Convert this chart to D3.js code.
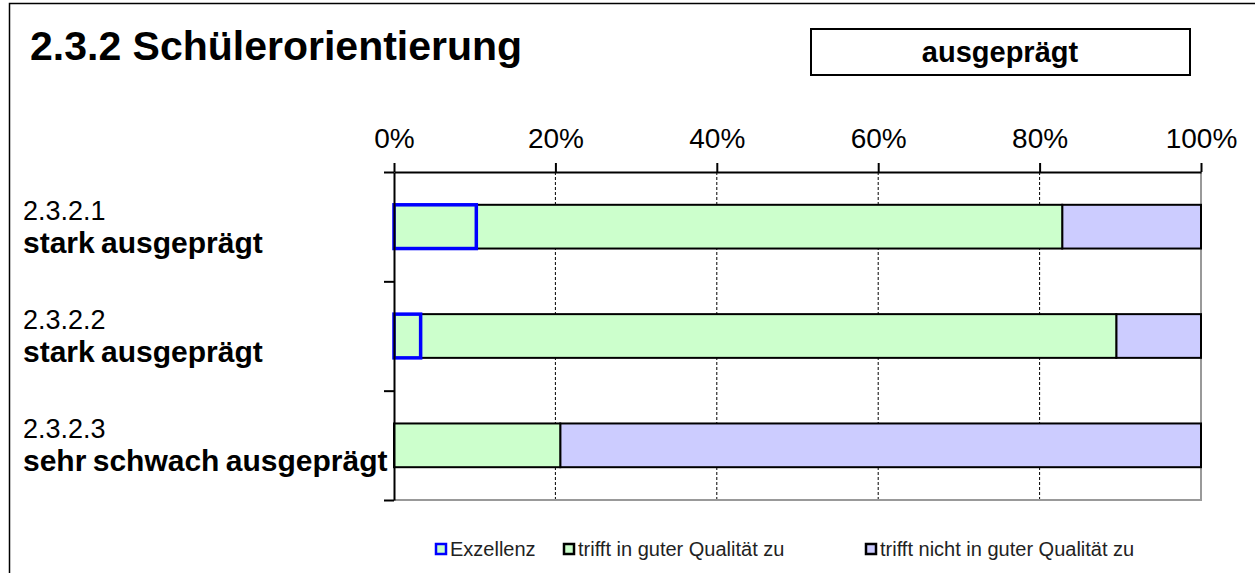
<!DOCTYPE html>
<html>
<head>
<meta charset="utf-8">
<script src="https://cdn.jsdelivr.net/npm/d3@7"></script>
<style>
  body { margin: 0; background: #fff; }
  svg text { font-family: "Liberation Sans", Arial, sans-serif; }
</style>
</head>
<body>
<div id="chart"></div>
<script>
'use strict'

// categories (code + rating line)
const codes = ["2.3.2.1", "2.3.2.2", "2.3.2.3"];
const ratings = ["stark ausgeprägt", "stark ausgeprägt", "sehr schwach ausgeprägt"];

// series values (share of 1)
const exzellenz = [0.102, 0.033, 0.0];
const guteQualitaet = [0.726, 0.862, 0.206];
const nichtGut = [0.172, 0.105, 0.794];

const seriesNames = ["Exzellenz", "trifft in guter Qualität zu", "trifft nicht in guter Qualität zu"];
const tickValues = [0, 0.2, 0.4, 0.6, 0.8, 1];

const title = "2.3.2 Schülerorientierung";
const badge = "ausgeprägt";

////////////////////////////////////////
////////////// Setup ///////////////////
////////////////////////////////////////

const width = 1255, height = 573;
const margin = { top: 172, right: 54, bottom: 73, left: 394 };

const svg = d3.select('#chart').append('svg')
  .attr('width', width)
  .attr('height', height);

// outer frame (runs off the right/bottom edge)
svg.append('rect')
  .attr('x', 9.5).attr('y', 3.5)
  .attr('width', width + 20).attr('height', height + 20)
  .attr('fill', 'none').attr('stroke', '#000').attr('stroke-width', 1.5);

svg.append('text')
  .attr('x', 30).attr('y', 60)
  .attr('font-size', 41).attr('font-weight', 'bold')
  .text(title);

svg.append('rect')
  .attr('x', 811).attr('y', 29).attr('width', 379).attr('height', 46)
  .attr('fill', '#fff').attr('stroke', '#000').attr('stroke-width', 2);

svg.append('text')
  .attr('x', 1000).attr('y', 62)
  .attr('text-anchor', 'middle')
  .attr('font-size', 29).attr('font-weight', 'bold')
  .text(badge);

////////////////////////////////////////
////////////// Scales //////////////////
////////////////////////////////////////

const x = d3.scaleLinear().domain([0, 1]).range([margin.left, width - margin.right]);
const y = d3.scaleBand().domain(codes)
  .range([margin.top, height - margin.bottom])
  .paddingInner(0.6).paddingOuter(0.3);
const yEdges = d3.scaleLinear().domain([0, codes.length]).range([margin.top, height - margin.bottom]);

const rows = codes.map((c, i) => ({
  code: c,
  ex: exzellenz[i],
  gut: guteQualitaet[i],
  nicht: nichtGut[i]
}));

const keys = ["ex", "gut", "nicht"];
const fills = { ex: "#CCFFCC", gut: "#CCFFCC", nicht: "#CCCCFF" };
const strokes = { ex: "#0000FF", gut: "#000", nicht: "#000" };
const strokeW = { ex: 3.5, gut: 2, nicht: 2 };

const stacked = d3.stack().keys(keys)(rows);

////////////////////////////////////////
////////////// Grid & axes /////////////
////////////////////////////////////////

svg.append('g')
  .selectAll('line')
  .data(tickValues.slice(1, -1))
  .join('line')
  .attr('x1', d => x(d)).attr('x2', d => x(d))
  .attr('y1', margin.top).attr('y2', height - margin.bottom)
  .attr('stroke', '#000').attr('stroke-width', 1)
  .attr('stroke-dasharray', '3,2');

// plot-area border right + bottom (grey)
svg.append('path')
  .attr('d', `M${x(1)},${margin.top}V${height - margin.bottom}H${x(0)}`)
  .attr('fill', 'none').attr('stroke', '#999').attr('stroke-width', 2);

////////////////////////////////////////
////////////// Bars ////////////////////
////////////////////////////////////////

// draw the blue excellence segment last so its stroke sits on top
const order = ["nicht", "gut", "ex"];
order.forEach(k => {
  const layer = stacked.find(s => s.key === k);
  svg.append('g')
    .selectAll('rect')
    .data(layer.filter(d => d[1] - d[0] > 0))
    .join('rect')
    .attr('x', d => x(d[0]))
    .attr('y', d => y(d.data.code))
    .attr('width', d => x(d[1]) - x(d[0]))
    .attr('height', y.bandwidth())
    .attr('fill', fills[k])
    .attr('stroke', strokes[k])
    .attr('stroke-width', strokeW[k]);
});

const xAxis = svg.append('g')
  .attr('transform', `translate(0,${margin.top})`)
  .call(d3.axisTop(x).tickValues(tickValues).tickFormat(d3.format('.0%'))
    .tickSize(9).tickSizeOuter(0).tickPadding(15));

const yAxis = svg.append('g')
  .attr('transform', `translate(${margin.left},0)`)
  .call(d3.axisLeft(yEdges).ticks(codes.length).tickFormat('')
    .tickSize(10).tickSizeOuter(0));

[xAxis, yAxis].forEach(a => {
  a.select('.domain').attr('stroke', '#000').attr('stroke-width', 2);
  a.selectAll('.tick line').attr('stroke', '#000').attr('stroke-width', 2);
});
xAxis.selectAll('.tick text')
  .attr('font-size', 28).attr('fill', '#000')
  .attr('font-family', '"Liberation Sans", Arial, sans-serif');

////////////////////////////////////////
////////////// Category labels /////////
////////////////////////////////////////

const labels = svg.append('g')
  .selectAll('g')
  .data(codes)
  .join('g')
  .attr('transform', d => `translate(23,${y(d) + y.bandwidth() / 2})`);

labels.append('text')
  .attr('y', -7)
  .attr('font-size', 27)
  .text(d => d);

labels.append('text')
  .attr('y', 26)
  .attr('font-size', 30).attr('font-weight', 'bold')
  .attr('word-spacing', -2)
  .text((d, i) => ratings[i]);

////////////////////////////////////////
////////////// Legend //////////////////
////////////////////////////////////////

const legendX = [436, 564, 866];
const legend = svg.append('g')
  .selectAll('g')
  .data(keys)
  .join('g')
  .attr('transform', (d, i) => `translate(${legendX[i]},544)`);

legend.append('rect')
  .attr('width', 10).attr('height', 10)
  .attr('fill', d => fills[d])
  .attr('stroke', d => strokes[d])
  .attr('stroke-width', 2.5);

legend.append('text')
  .attr('x', 14).attr('y', 12)
  .attr('font-size', 20).attr('fill', '#222')
  .text((d, i) => seriesNames[i]);
</script>
</body>
</html>
